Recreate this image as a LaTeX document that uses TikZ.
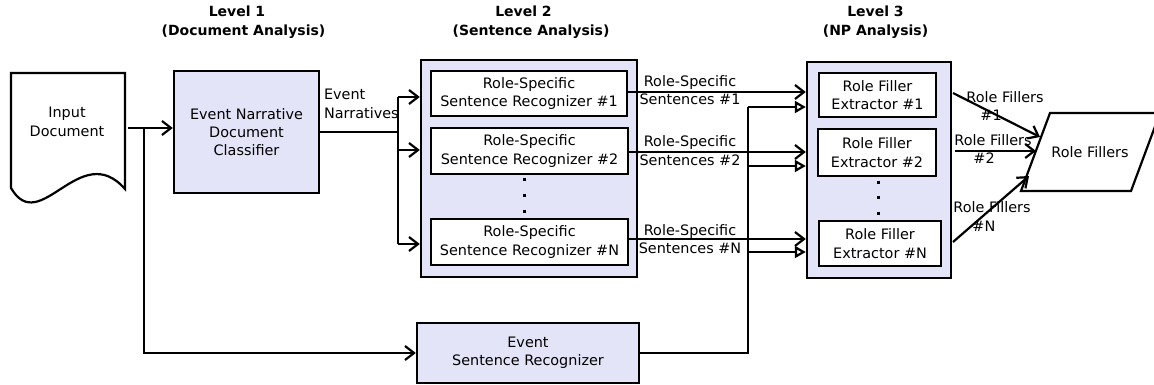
\documentclass[tikz,border=0pt]{standalone}
\usepackage{fontspec}
\setmainfont{DejaVu Sans}
\usetikzlibrary{arrows.meta,calc}
\definecolor{lav}{RGB}{227,228,247}
\begin{document}
\begin{tikzpicture}[x=1pt,y=-1pt,
  font=\fontsize{14.4}{18.3}\selectfont, line width=2.2pt,
  box/.style={draw, line width=2.4pt, fill=lav, inner sep=0pt, align=center},
  wbox/.style={draw, line width=2.4pt, fill=white, inner sep=0pt, align=center},
  arr/.style={-{Straight Barb[length=9pt,width=14pt]}},
  tri/.style={-{Triangle[open,length=11pt,width=12pt]}},
  lbl/.style={inner sep=0pt, align=center},
  title/.style={inner sep=0pt, align=center, font=\fontsize{14}{19}\selectfont\bfseries}]
\useasboundingbox (0,0) rectangle (1154,385);

% titles
\node[title] (t1) at (237,22.5) {Level 1\\\hspace*{13pt}(Document Analysis)};
\node[title] (t2) at (523.5,22.5) {Level 2\\\hspace*{15pt}(Sentence Analysis)};
\node[title] (t3) at (875.5,22.5) {Level 3\\(NP Analysis)};

% input document
\draw[fill=white] (11,188) -- (11,73) -- (125,73) -- (125,189)
  .. controls (80,138) and (40,238) .. (11,188) -- cycle;
\node[lbl] (doc) at (67,122) {Input\\Document};

% level 1
\node[box, minimum width=145pt, minimum height=122pt] (cls) at (246.5,132) {Event Narrative\\Document\\Classifier};

% level 2
\node[box, minimum width=216pt, minimum height=217pt] (L2) at (529,168.5) {};
\node[wbox, minimum width=196pt, minimum height=45pt] (r1) at (529,93.5) {Role-Specific\\Sentence Recognizer \#1};
\node[wbox, minimum width=197pt, minimum height=46pt] (r2) at (529.5,151) {Role-Specific\\Sentence Recognizer \#2};
\node[wbox, minimum width=197pt, minimum height=46pt] (rN) at (529.5,242) {Role-Specific\\Sentence Recognizer \#N};
\foreach \yy in {179,195,211} \fill (522.5,\yy-1.5) rectangle ++(3,3);

\node[box, minimum width=222pt, minimum height=60pt] (esr) at (528,353) {Event\\Sentence Recognizer};

% level 3
\node[box, minimum width=144pt, minimum height=216pt] (L3) at (879,170) {};
\node[wbox, minimum width=117pt, minimum height=44pt] (e1) at (877.5,95) {Role Filler\\Extractor \#1};
\node[wbox, minimum width=118pt, minimum height=47pt] (e2) at (877,152.5) {Role Filler\\Extractor \#2};
\node[wbox, minimum width=122pt, minimum height=45pt] (eN) at (880,243.5) {Role Filler\\Extractor \#N};
\foreach \yy in {182,197,213} \fill (876.5,\yy-1.5) rectangle ++(3,3);

% role fillers output
\draw[fill=white] (1050,113) -- (1160,113) -- (1131,191) -- (1021,191) -- cycle;
\node[lbl] (rf) at (1090,152) {Role Fillers};

% connectors: document
\coordinate (docout) at (128,128);
\coordinate (split) at (144,128);
\draw[arr] (docout) -- (cls.west |- docout);
\draw[arr] (split) |- (esr.west);

% classifier to level 2
\coordinate (fan) at (398,132);
\coordinate (f1) at (398,97);
\coordinate (f2) at (398,150);
\coordinate (f3) at (398,244);
\draw (cls.east) -- (fan);
\draw (f1) -- (f3);
\draw[arr] (f1) -- (f1 -| L2.west);
\draw[arr] (f2) -- (f2 -| L2.west);
\draw[arr] (f3) -- (f3 -| L2.west);
\node[lbl, anchor=west, align=left] (lev) at (323,104) {Event\\Narratives};

% level 2 to level 3
\coordinate (s1) at ([yshift=1.5pt]r1.east);
\coordinate (s2) at ([yshift=-1pt]r2.east);
\coordinate (sN) at ([yshift=3pt]rN.east);
\draw[arr] (s1) -- (s1 -| L3.west);
\draw[arr] (s2) -- (s2 -| L3.west);
\draw[arr] (sN) -- (sN -| L3.west);
\node[lbl] (ls1) at (690,90) {Role-Specific\\Sentences \#1};
\node[lbl] (ls2) at (690,150.5) {Role-Specific\\Sentences \#2};
\node[lbl] (lsN) at (690,239) {Role-Specific\\Sentences \#N};

% event sentence recognizer to level 3
\coordinate (j1) at (748,107);
\coordinate (j2) at (748,166);
\coordinate (j3) at (748,252);
\draw (esr.east) -| (j1);
\draw[tri] (j1) -- (j1 -| L3.west);
\draw[tri] (j2) -- (j2 -| L3.west);
\draw[tri] (j3) -- (j3 -| L3.west);

% level 3 to role fillers
\coordinate (q1) at (953,93);
\coordinate (q2) at (955,151);
\coordinate (q3) at (953,242);
\coordinate (p1) at (1040,137);
\coordinate (p2) at (1036,151);
\coordinate (p3) at (1029,176);
\draw[arr] (q1) -- (p1);
\draw[arr] (q2) -- (p2);
\draw[arr] (q3) -- (p3);
\node[lbl, align=left] (lf1) at (1005,106) {Role Fillers\\\hspace*{14pt}\#1};
\node[lbl, align=left] (lf2) at (993,149) {Role Fillers\\\hspace*{19pt}\#2};
\node[lbl, align=left] (lfN) at (992,216.5) {Role Fillers\\\hspace*{19pt}\#N};
\end{tikzpicture}
\end{document}
